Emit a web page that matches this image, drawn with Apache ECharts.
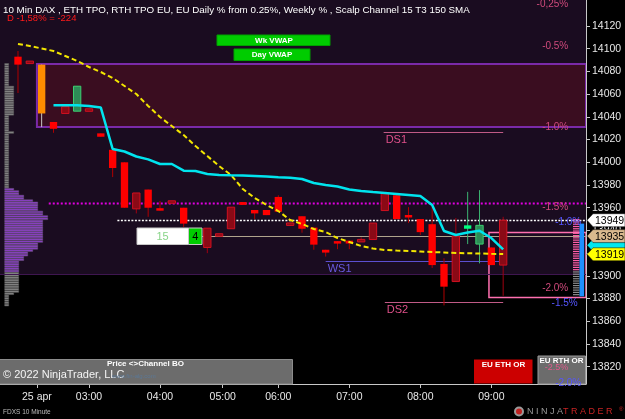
<!DOCTYPE html>
<html>
<head>
<meta charset="utf-8">
<script src="https://cdn.jsdelivr.net/npm/echarts@6/dist/echarts.min.js"></script>
<style>
html, body { margin: 0; padding: 0; background: #000; }
#chart { width: 625px; height: 419px; }
</style>
</head>
<body>
<div id="chart"></div>
<script>
// x axis = bar index (10 min bars), y axis = price
var timeLabels = ['25 apr', '03:00', '04:00', '05:00', '06:00', '07:00', '08:00', '09:00'];
var timeIdx = [1.6, 6, 12, 17.3, 22, 28, 34, 40];
var priceTicks = [13820, 13840, 13860, 13880, 13900, 13920, 13940, 13960, 13980, 14000, 14020, 14040, 14060, 14080, 14100, 14120];

var opens  = [14093, 14088, 14086, 14035.5, 14049, 14045, 14046, 14025.5, 14011, 14000, 13973, 13976, 13959.5, 13965, 13960, 13940, 13942, 13936, 13960.5, 13965, 13958, 13958, 13969.5, 13945.5, 13952.5, 13942.5, 13923, 13930.5, 13931, 13931, 13946.5, 13972.5, 13971, 13953.5, 13950, 13945.5, 13910.5, 13935, 13941.5, 13928, 13925, 13949];
var closes = [14086, 14088, 14043, 14029.5, 14043, 14067, 14046, 14022.5, 13995, 13960, 13959, 13960, 13957.5, 13965, 13946, 13934, 13925, 13936, 13941.5, 13962.5, 13955, 13953.5, 13956.5, 13945.5, 13941.5, 13927.5, 13920.5, 13928.5, 13928.5, 13931, 13932, 13957.5, 13950, 13951.5, 13938.5, 13909.5, 13890.5, 13895, 13944.5, 13944.5, 13909.5, 13909.5];
var highs  = [14098, 14088, 14086, 14035.5, 14049, 14067, 14046, 14025.5, 14011, 14000, 13973, 13976, 13966, 13965, 13960, 13941, 13942, 13936, 13960.5, 13965, 13958, 13958, 13971, 13945.5, 13952.5, 13942.5, 13923, 13930.5, 13931, 13934, 13946.5, 13972.5, 13972, 13960.5, 13950, 13961, 13915.5, 13951, 13974, 13975.5, 13925, 13952];
var lows   = [14061, 14088, 14031, 14026, 14043, 14045, 14046, 14022.5, 13987, 13960, 13955, 13952, 13957.5, 13965, 13943, 13930, 13920, 13936, 13941.5, 13962.5, 13950, 13953.5, 13956.5, 13945.5, 13938, 13923, 13917, 13923.5, 13923.5, 13931, 13932, 13957.5, 13950, 13946.5, 13936, 13907, 13874, 13895, 13928, 13911, 13909.5, 13882.5];
// r = down, d = down (dim), o = signal bar, g = up, G = up (bright)
var kinds  = ['r', 'd', 'o', 'r', 'd', 'g', 'd', 'r', 'r', 'r', 'd', 'r', 'r', 'd', 'r', 'r', 'd', 'd', 'd', 'r', 'r', 'r', 'r', 'd', 'r', 'r', 'r', 'r', 'r', 'd', 'd', 'd', 'r', 'r', 'r', 'r', 'r', 'd', 'G', 'g', 'r', 'd'];

var sma150 = [14104.2, 14102.4, 14100.2, 14098, 14093.6, 14089.2, 14083.9, 14079.5, 14074.2, 14067.2, 14060.1, 14049.6, 14039.9, 14031.9, 14024, 14014.3, 14005.5, 13996.7, 13988.8, 13976.5, 13968.6, 13962.4, 13957.1, 13949.2, 13945.7, 13941.3, 13938.6, 13933.3, 13929.8, 13926.3, 13924.1, 13922.8, 13922.3, 13921.9, 13921.5, 13921, 13920.6, 13920.1, 13920, 13919.7, 13919.4, 13919.2];
var vwap = [null, null, null, 14050.2, 14050.2, 14050.2, 14049.6, 14048.2, 14011.7, 14009.5, 14005.1, 14002.6, 13998.5, 13998.5, 13992.6, 13992.3, 13989.7, 13988.8, 13988.5, 13988.3, 13987.9, 13987.5, 13986.9, 13986.4, 13985.3, 13981.8, 13980, 13978.7, 13976.1, 13974.7, 13973.8, 13973, 13972.1, 13971.2, 13970.3, 13962.4, 13939.5, 13936, 13938.2, 13939.7, 13933.3, 13923.4];

// ETH volume profile, 2 point rows from the top price down
var profileTop = 14086;
var profileStep = 2;
var profileVol = [4, 4, 4, 4, 4, 4, 4, 4, 4, 4,
  9, 9, 9, 9, 9, 9, 9, 9, 9, 9, 9, 9, 9,
  4, 4, 4, 4, 4, 4, 4, 9, 4, 4, 4, 4, 4, 4, 4, 4, 4, 4, 4, 4, 4, 4, 4, 4, 4, 4, 4, 4, 4, 4, 4, 4,
  9, 14, 14, 19, 19, 28, 33, 33, 33, 33, 38, 38, 43, 43,
  38, 38, 38, 38, 38, 38, 38, 38, 38, 38, 33, 33, 33, 28, 23, 23, 19, 19,
  14, 14, 14, 14, 14, 14, 14, 14, 14, 14, 14, 14, 14, 14, 9, 4, 4, 4, 4, 4];
var vaHigh = 13976;
var vaLow = 13904;

// zones: low, high, from bar
var zoneLow  = [13901.6, 14031, 13881];
var zoneHigh = [14142.9, 14086.5, 13938.3];
var zoneFrom = [-1.52, 1.6, 39.8];

// level lines
var lvlPrice = [14026.7, 13913.5, 13877, 13964.2, 13949, 13935.5, 13901.6];
var lvlFrom  = [30.9, 26, 31, 2.6, 8.4, 15.5, -1.52];
var lvlTo    = [41, 41, 41, 48, 48, 48, 48];
var lvlName  = ['DS1', 'WS1', 'DS2', '', '', '', ''];

var pctText  = ['-0,25%', '-0.5%', '-1.0%', '-1.5%', '-2.0%'];
var pctPrice = [14139, 14102.4, 14031, 13960.6, 13889.3];
var wkPctText  = ['-1.0%', '-1.5%', '-2.0%'];
var wkPctPrice = [13947, 13876, 13805.5];

var tagPrice = [13927, 13949, 13935, 13919];
var tagText  = ['', '13949', '13935', '13919'];

var rthHigh = 13950, rthMid = 13906, rthLow = 13884;
var rthBarHigh = 13946, rthBarLow = 13882;

var X_MIN = -1.52, X_MAX = 48, Y_MIN = 13804.8, Y_MAX = 14142.9;
var FONT = 'Liberation Sans, Arial, sans-serif';

var candleStyles = {
    r: { fill: '#ff0000', stroke: '#ff0000', wick: '#b00000' },
    d: { fill: '#8a0a16', stroke: '#d01020', wick: '#a00010' },
    o: { fill: '#ff8c00', stroke: '#ff8c00', wick: '#c8c8c8' },
    g: { fill: '#2e8b57', stroke: '#3cd070', wick: '#3cb371' },
    G: { fill: '#00ff7f', stroke: '#00ff7f', wick: '#3cb371' }
};
var zoneStyles = [
    { fill: '#1a0c20', stroke: null },
    { fill: '#3a0d20', stroke: '#7a2aa8', lw: 2 },
    { fill: null, stroke: '#ff70b0', lw: 1.5 }
];
var lvlStyles = [
    { color: '#c05a86', width: 1, dash: null, text: '#e0508a' },
    { color: '#5b4fcf', width: 1.2, dash: null, text: '#6a5ae0' },
    { color: '#c05a86', width: 1, dash: null, text: '#e0508a' },
    { color: '#e000e0', width: 2, dash: [2, 2] },
    { color: '#ffffff', width: 1.5, dash: [2, 1.5] },
    { color: '#b0a48c', width: 1, dash: null },
    { color: '#3e1650', width: 1, dash: null }
];
var tagColors = ['#00e8f0', '#ffffff', '#d9b98e', '#ffff00'];

function renderCandle(params, api) {
    var i = api.value(0);
    var st = candleStyles[kinds[params.dataIndex]];
    var pO = api.coord([i, api.value(1)]);
    var pC = api.coord([i, api.value(2)]);
    var pH = api.coord([i, api.value(3)]);
    var pL = api.coord([i, api.value(4)]);
    var w = api.size([1, 0])[0] * 0.62;
    var top = Math.min(pO[1], pC[1]), bot = Math.max(pO[1], pC[1]);
    if (bot - top < 2.5) { var m = (top + bot) / 2; top = m - 1.25; bot = m + 1.25; }
    return {
        type: 'group',
        children: [
            { type: 'line', shape: { x1: pH[0], y1: pH[1], x2: pL[0], y2: pL[1] }, style: { stroke: st.wick, lineWidth: 1 } },
            { type: 'rect', shape: { x: pO[0] - w / 2, y: top, width: w, height: bot - top },
              style: { fill: st.fill, stroke: st.stroke, lineWidth: st.stroke === st.fill ? 0 : 1 } }
        ]
    };
}

function renderZone(params, api) {
    var st = zoneStyles[params.dataIndex];
    var p0 = api.coord([api.value(0), api.value(2)]);
    var p1 = api.coord([X_MAX, api.value(1)]);
    return {
        type: 'rect',
        shape: { x: p0[0], y: p0[1], width: p1[0] - p0[0], height: p1[1] - p0[1] },
        style: { fill: st.fill || 'none', stroke: st.stroke || 'none', lineWidth: st.lw || 0 }
    };
}

function renderLevel(params, api) {
    var k = params.dataIndex;
    var st = lvlStyles[k];
    var p0 = api.coord([api.value(0), api.value(2)]);
    var p1 = api.coord([api.value(1), api.value(2)]);
    var kids = [{
        type: 'line',
        shape: { x1: p0[0], y1: Math.round(p0[1]) + 0.5, x2: p1[0], y2: Math.round(p0[1]) + 0.5 },
        style: { stroke: st.color, lineWidth: st.width, lineDash: st.dash }
    }];
    if (lvlName[k]) {
        kids.push({ type: 'text', style: { text: lvlName[k], x: p0[0] + 2, y: p0[1] + 8, fill: st.text,
            font: '11px ' + FONT, verticalAlign: 'middle' } });
    }
    return { type: 'group', children: kids };
}

function renderProfile(params, api) {
    var price = api.value(1);
    var p0 = api.coord([0, price + profileStep / 2]);
    var p1 = api.coord([api.value(0), price - profileStep / 2]);
    var inVa = price <= vaHigh && price >= vaLow;
    return {
        type: 'rect',
        shape: { x: p0[0], y: p0[1], width: p1[0] - p0[0], height: p1[1] - p0[1] - 0.6 },
        style: { fill: inVa ? '#8c3ccc' : '#8a8a8a', stroke: inVa ? '#6e5a7e' : '#5a5a5a', lineWidth: 0.5 }
    };
}

function renderPct(params, api) {
    var p = api.coord([api.value(0), api.value(1)]);
    var blue = api.value(2) === 1;
    return { type: 'text', style: { text: blue ? wkPctText[params.dataIndex - pctText.length] : pctText[params.dataIndex],
        x: p[0], y: p[1], fill: blue ? '#5555ff' : '#d04a7c', font: '10px ' + FONT, align: 'right', verticalAlign: 'middle' } };
}

function renderTag(params, api) {
    var y = api.coord([X_MAX, api.value(0)])[1];
    var x0 = params.coordSys.x + params.coordSys.width + 1;
    var h = 6.5;
    return {
        type: 'group',
        children: [
            { type: 'polygon', shape: { points: [[x0, y], [x0 + 6, y - h], [x0 + 38, y - h], [x0 + 38, y + h], [x0 + 6, y + h]] },
              style: { fill: tagColors[params.dataIndex], stroke: '#000', lineWidth: 0.5 } },
            { type: 'text', style: { text: tagText[params.dataIndex], x: x0 + 8, y: y + 0.5, fill: '#000',
              font: '10.5px ' + FONT, verticalAlign: 'middle' } }
        ]
    };
}

function renderRth(params, api) {
    var kids = [];
    var xa = api.coord([46.9, 0])[0], xb = api.coord([47.45, 0])[0], xc = api.coord([47.84, 0])[0];
    var pb0 = api.coord([0, rthBarHigh])[1], pb1 = api.coord([0, rthBarLow])[1];
    for (var p = rthHigh; p >= rthLow; p -= profileStep) {
        var y = api.coord([0, p])[1];
        kids.push({ type: 'rect', shape: { x: xa, y: y, width: xb - xa, height: 1.2 },
            style: { fill: p >= rthMid ? '#ff60a8' : '#8c8c8c' } });
    }
    kids.push({ type: 'rect', shape: { x: xb, y: pb0, width: xc - xb, height: pb1 - pb0 }, style: { fill: '#1e90ff' } });
    return { type: 'group', children: kids };
}

var chart = echarts.init(document.getElementById('chart'));

var vwapData = [];
vwap.forEach(function (v, i) { if (v !== null) vwapData.push([i, v]); });

chart.setOption({
    backgroundColor: '#000',
    animation: false,
    grid: [
        { left: 0, right: 39, top: 0, bottom: 35, show: false },
        { left: 4.7, width: 60, top: 0, bottom: 35, show: false }
    ],
    xAxis: [{
        type: 'value', gridIndex: 0, min: X_MIN, max: X_MAX,
        splitLine: { show: false },
        axisLine: { show: true, onZero: false, lineStyle: { color: '#c8c8c8', width: 1 } },
        axisTick: { show: true, customValues: timeIdx, length: 4, lineStyle: { color: '#c8c8c8' } },
        axisLabel: {
            customValues: timeIdx, color: '#e8e8e8', fontSize: 10.5, fontFamily: FONT, margin: 8,
            formatter: function (v) {
                var best = 0;
                timeIdx.forEach(function (t, j) { if (Math.abs(t - v) < Math.abs(timeIdx[best] - v)) best = j; });
                return timeLabels[best];
            }
        }
    }, {
        type: 'value', gridIndex: 1, min: 0, max: 60, show: false
    }],
    yAxis: [{
        type: 'value', gridIndex: 0, position: 'right', min: Y_MIN, max: Y_MAX,
        splitLine: { show: false },
        axisLine: { show: true, onZero: false, lineStyle: { color: '#c8c8c8', width: 1 } },
        axisTick: { show: true, customValues: priceTicks, length: 4, lineStyle: { color: '#c8c8c8' } },
        axisLabel: { customValues: priceTicks, color: '#e8e8e8', fontSize: 10.5, fontFamily: FONT, margin: 6,
            formatter: function (v) { return String(Math.round(v)); } }
    }, {
        type: 'value', gridIndex: 1, min: Y_MIN, max: Y_MAX, show: false
    }],
    series: [{
        type: 'custom', name: 'zones', z: 0, xAxisIndex: 0, yAxisIndex: 0,
        renderItem: renderZone, silent: true,
        data: zoneLow.map(function (lo, i) { return [zoneFrom[i], lo, zoneHigh[i]]; }),
        encode: { x: 0, y: [1, 2] }
    }, {
        type: 'custom', name: 'profile', z: 1, xAxisIndex: 1, yAxisIndex: 1,
        renderItem: renderProfile, silent: true,
        data: profileVol.map(function (v, k) { return [v, profileTop - k * profileStep]; }),
        encode: { x: 0, y: 1 }
    }, {
        type: 'custom', name: 'levels', z: 2,
        renderItem: renderLevel, silent: true,
        data: lvlPrice.map(function (p, i) { return [lvlFrom[i], lvlTo[i], p]; }),
        encode: { x: [0, 1], y: 2 }
    }, {
        type: 'custom', name: 'rth', z: 2, clip: false,
        renderItem: renderRth, silent: true,
        data: [[47, rthHigh]], encode: { x: 0, y: 1 }
    }, {
        type: 'custom', name: 'pct', z: 150, clip: false,
        renderItem: renderPct, silent: true,
        data: pctPrice.map(function (p) { return [46.5, p, 0]; })
            .concat(wkPctPrice.map(function (p, i) { return [i === 1 ? 47.3 : 47.6, p, 1]; })),
        encode: { x: 0, y: 1 }
    }, {
        type: 'custom', name: 'FDXS', z: 3,
        renderItem: renderCandle,
        data: opens.map(function (o, i) { return [i, o, closes[i], highs[i], lows[i]]; }),
        encode: { x: 0, y: [1, 2, 3, 4] }
    }, {
        type: 'line', name: '150 SMA', z: 4, showSymbol: false, symbol: 'none',
        data: sma150.map(function (v, i) { return [i, v]; }),
        lineStyle: { color: '#f2e600', width: 2, type: [5, 3] }
    }, {
        type: 'line', name: 'VWAP', z: 5, showSymbol: false, symbol: 'none',
        data: vwapData,
        lineStyle: { color: '#00e4ee', width: 2.5 }
    }, {
        type: 'custom', name: 'tags', z: 6, clip: false,
        renderItem: renderTag, silent: true,
        data: tagPrice.map(function (p) { return [p]; }),
        encode: { y: 0 }
    }],
    graphic: [
        { type: 'text', z: 100, style: { text: '10 Min DAX , ETH TPO, RTH TPO EU, EU Daily % from 0.25%, Weekly % , Scalp Channel 15 T3 150 SMA',
            x: 3, y: 10, fill: '#ffffff', font: '9.8px ' + FONT, verticalAlign: 'middle' } },
        { type: 'text', z: 100, style: { text: 'D -1,58% = -224', x: 7, y: 18.5, fill: '#ff1a1a', font: '9.5px ' + FONT, verticalAlign: 'middle' } },

        { type: 'rect', z: 100, shape: { x: 217, y: 35, width: 113, height: 10.5 }, style: { fill: '#00cc00', stroke: '#00a000', lineWidth: 1 } },
        { type: 'text', z: 101, style: { text: 'Wk VWAP', x: 274, y: 40.5, fill: '#ffffff', font: 'bold 8px ' + FONT, align: 'center', verticalAlign: 'middle' } },
        { type: 'rect', z: 100, shape: { x: 234, y: 49, width: 76, height: 11.5 }, style: { fill: '#00cc00', stroke: '#00a000', lineWidth: 1 } },
        { type: 'text', z: 101, style: { text: 'Day VWAP', x: 272, y: 55, fill: '#ffffff', font: 'bold 8px ' + FONT, align: 'center', verticalAlign: 'middle' } },

        { type: 'rect', z: 100, shape: { x: 137, y: 228, width: 51.5, height: 16.5 }, style: { fill: '#ffffff', stroke: '#c8c8c8', lineWidth: 1 } },
        { type: 'text', z: 101, style: { text: '15', x: 162.5, y: 236.5, fill: '#88d488', font: '11px ' + FONT, align: 'center', verticalAlign: 'middle' } },
        { type: 'rect', z: 100, shape: { x: 188.5, y: 228, width: 13.5, height: 16.5 }, style: { fill: '#00cc00', stroke: '#c8c8c8', lineWidth: 1 } },
        { type: 'text', z: 101, style: { text: '4', x: 195.3, y: 236.5, fill: '#000000', font: '11px ' + FONT, align: 'center', verticalAlign: 'middle' } },

        { type: 'rect', z: 100, shape: { x: -1, y: 359.5, width: 293.5, height: 24.5 }, style: { fill: '#6c6c6c', stroke: '#8c8c8c', lineWidth: 1 } },
        { type: 'text', z: 101, style: { text: 'Price <>Channel BO', x: 107, y: 364, fill: '#ffffff', font: 'bold 8px ' + FONT, verticalAlign: 'middle' } },
        { type: 'text', z: 101, style: { text: '\u00a9 2022 NinjaTrader, LLC', x: 3, y: 374.5, fill: '#f4f4f4', font: '11px ' + FONT, verticalAlign: 'middle' } },
        { type: 'text', z: 101, style: { text: 'www.fin-alg.com', x: 112, y: 376, fill: '#5b7896', font: '6px ' + FONT, verticalAlign: 'middle' } },

        { type: 'rect', z: 100, shape: { x: 474, y: 359.5, width: 58.5, height: 24 }, style: { fill: '#cc0000' } },
        { type: 'text', z: 101, style: { text: 'EU ETH OR', x: 503.5, y: 364.5, fill: '#ffffff', font: 'bold 8px ' + FONT, align: 'center', verticalAlign: 'middle' } },
        { type: 'rect', z: 100, shape: { x: 538, y: 356, width: 47.5, height: 28 }, style: { fill: '#6c6c6c', stroke: '#9a9a9a', lineWidth: 1 } },
        { type: 'text', z: 101, style: { text: 'EU RTH OR', x: 561.5, y: 360.5, fill: '#ffffff', font: 'bold 8px ' + FONT, align: 'center', verticalAlign: 'middle' } },
        { type: 'text', z: 101, style: { text: '-2.5%', x: 556.5, y: 367.5, fill: '#e05a8c', font: '9px ' + FONT, align: 'center', verticalAlign: 'middle' } },

        { type: 'text', z: 100, style: { text: 'FDXS 10 Minute', x: 3, y: 412, fill: '#bdbdbd', font: '6.5px ' + FONT, verticalAlign: 'middle' } },
        { type: 'circle', z: 100, shape: { cx: 519, cy: 411.5, r: 5 }, style: { fill: '#9a9a9a' } },
        { type: 'circle', z: 101, shape: { cx: 519, cy: 411.5, r: 3 }, style: { fill: '#c02020' } },
        { type: 'text', z: 100, style: { text: 'N I N J A', x: 527, y: 412, fill: '#9a9a9a', font: '9px ' + FONT, verticalAlign: 'middle' } },
        { type: 'text', z: 100, style: { text: 'T R A D E R', x: 563, y: 412, fill: '#c82424', font: '9px ' + FONT, verticalAlign: 'middle' } },
        { type: 'text', z: 100, style: { text: '\u00ae', x: 619, y: 409, fill: '#c82424', font: '6px ' + FONT, verticalAlign: 'middle' } }
    ]
});
</script>
</body>
</html>
